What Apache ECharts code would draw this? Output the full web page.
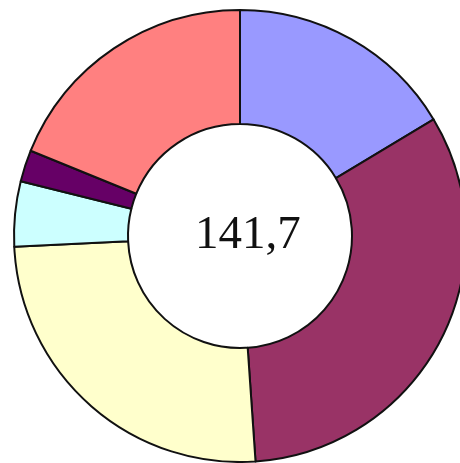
<!DOCTYPE html>
<html>
<head>
<meta charset="utf-8">
<script src="https://cdn.jsdelivr.net/npm/echarts@6/dist/echarts.min.js"></script>
<style>html,body{margin:0;padding:0;background:#fff;}#c{width:460px;height:463px;}</style>
</head>
<body>
<div id="c"></div>
<script>
var names = ['A', 'B', 'C', 'D', 'E', 'F'];
var values = [23.2, 46.1, 35.9, 6.6, 3.2, 26.7];
var colors = ['#9999FF', '#993366', '#FFFFCC', '#CCFFFF', '#660066', '#FF8080'];
var centerLabel = '141,7';

var chart = echarts.init(document.getElementById('c'));
chart.setOption({
  animation: false,
  backgroundColor: '#ffffff',
  graphic: [{
    type: 'text',
    left: 195, top: 212,
    style: { text: centerLabel, font: '47px "Liberation Serif"', fill: '#111' }
  }],
  series: [{
    type: 'pie',
    center: [240, 236],
    radius: [112, 226],
    startAngle: 90,
    clockwise: true,
    label: { show: false },
    labelLine: { show: false },
    emphasis: { disabled: true },
    itemStyle: { borderColor: '#111', borderWidth: 2 },
    data: names.map(function (n, i) {
      return { name: n, value: values[i], itemStyle: { color: colors[i] } };
    })
  }]
});
</script>
</body>
</html>
